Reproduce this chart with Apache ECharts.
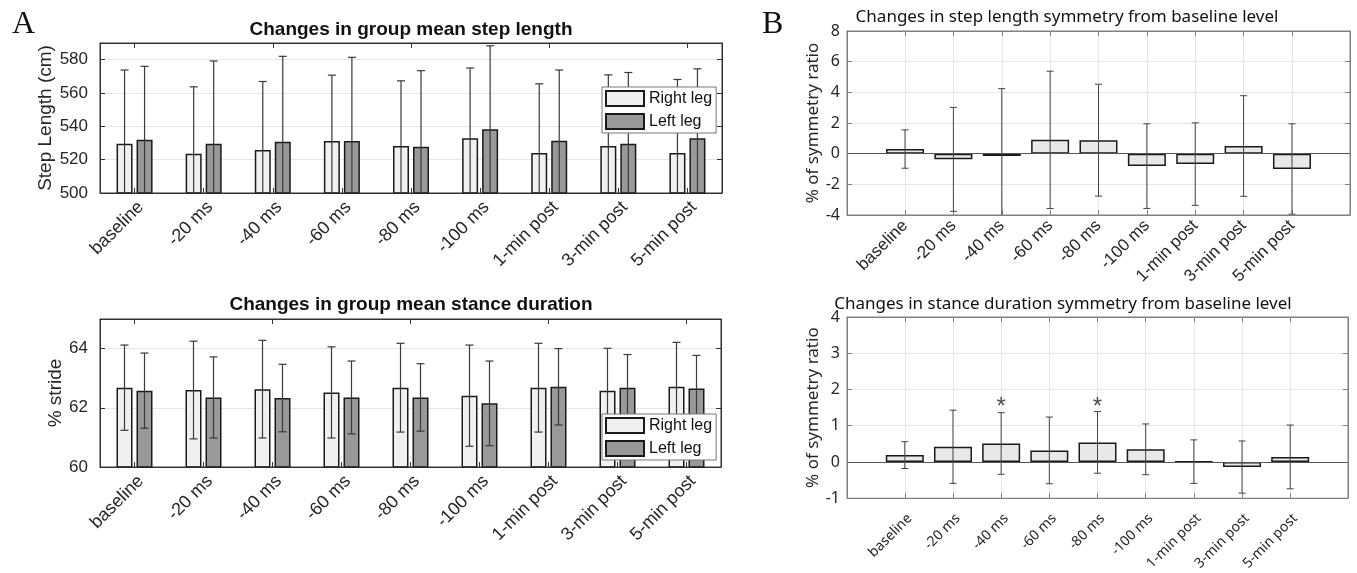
<!DOCTYPE html>
<html>
<head>
<meta charset="utf-8">
<script src="https://cdn.jsdelivr.net/npm/echarts@6/dist/echarts.min.js"></script>
<style>
html, body { margin: 0; padding: 0; background: #fff; }
#main { width: 1357px; height: 573px; }
</style>
</head>
<body>
<div id="main"></div>
<script>
const conditions = ['baseline', '-20 ms', '-40 ms', '-60 ms', '-80 ms', '-100 ms', '1-min post', '3-min post', '5-min post']

// A, top: group mean step length (cm), mean and SD
const stepRight = [529.6, 523.6, 525.8, 531.2, 528.2, 532.8, 524.0, 528.2, 524.0]
const stepRightSd = [44.2, 40.1, 41.1, 39.5, 39.1, 42.2, 41.5, 42.7, 44.1]
const stepLeft = [531.9, 529.6, 530.8, 531.2, 527.8, 538.3, 531.4, 529.6, 532.8]
const stepLeftSd = [44.1, 49.6, 51.2, 50.2, 45.6, 50.0, 42.4, 42.7, 41.7]

// A, bottom: group mean stance duration (% stride)
const stanceRight = [62.68, 62.60, 62.63, 62.52, 62.68, 62.41, 62.68, 62.58, 62.71]
const stanceRightSd = [1.44, 1.65, 1.65, 1.54, 1.50, 1.71, 1.50, 1.43, 1.50]
const stanceLeft = [62.58, 62.35, 62.33, 62.35, 62.35, 62.15, 62.71, 62.68, 62.65]
const stanceLeftSd = [1.27, 1.37, 1.14, 1.23, 1.14, 1.43, 1.29, 1.12, 1.12]

// B: symmetry ratio change from baseline (%)
const stepSym = [0.30, -0.37, -0.15, 0.90, 0.88, -0.81, -0.68, 0.50, -1.00]
const stepSymSd = [1.25, 3.39, 4.39, 4.48, 3.65, 2.76, 2.69, 3.28, 2.95]
const stanceSym = [0.19, 0.42, 0.51, 0.32, 0.54, 0.35, 0.01, -0.14, 0.14]
const stanceSymSd = [0.37, 1.01, 0.85, 0.92, 0.85, 0.70, 0.60, 0.72, 0.88]
const starConditions = ['-40 ms', '-80 ms']
const starLevel = 1.64

const ARIAL = 'Liberation Sans, Arial, sans-serif'
const SANS = 'Noto Sans, Open Sans, sans-serif'
const TXT = '#262626'

function errRows(mean, sd, xs) {
  return mean.map((m, i) => [xs ? i + 1 : i, m - sd[i], m + sd[i]])
}

// vertical error bar with caps, clipped to the plot box
function errorBar(offset, capHalf, color, width) {
  return function (params, api) {
    const cs = params.coordSys
    const hi = api.coord([api.value(0), api.value(2)])
    const lo = api.coord([api.value(0), api.value(1)])
    const x = hi[0] + offset
    const yTop = cs.y
    const yBot = cs.y + cs.height
    const y1 = Math.max(hi[1], yTop)
    const y2 = Math.min(lo[1], yBot)
    const st = () => ({ stroke: color, lineWidth: width })
    const children = [{ type: 'line', shape: { x1: x, y1: y1, x2: x, y2: y2 }, style: st() }]
    if (hi[1] >= yTop) children.push({ type: 'line', shape: { x1: x - capHalf, y1: hi[1], x2: x + capHalf, y2: hi[1] }, style: st() })
    if (lo[1] <= yBot) children.push({ type: 'line', shape: { x1: x - capHalf, y1: lo[1], x2: x + capHalf, y2: lo[1] }, style: st() })
    return { type: 'group', children: children }
  }
}

function catAxis(grid, pos, labels) {
  return {
    type: 'category', gridIndex: grid, position: pos, data: conditions,
    axisLine: { show: true, onZero: false, lineStyle: { color: '#333', width: 1 } },
    axisTick: { show: true, inside: true, alignWithLabel: true, length: 5, lineStyle: { color: '#333' } },
    axisLabel: labels ? { show: true, rotate: 45, margin: 5, verticalAlign: 'top', fontFamily: ARIAL, fontSize: 18, color: TXT } : { show: false },
    splitLine: { show: false }
  }
}

function symXAxis(grid, pos, labelStyle) {
  const ticks = conditions.map((c, i) => i + 1)
  return {
    type: 'value', gridIndex: grid, position: pos, min: -0.2, max: 10.2,
    axisLine: { show: true, onZero: false, lineStyle: { color: '#808080', width: 1 } },
    axisTick: { show: true, inside: true, length: 5, customValues: ticks, lineStyle: { color: '#808080' } },
    axisLabel: labelStyle ? Object.assign({ show: true, rotate: 45, customValues: ticks, formatter: v => conditions[Math.round(v) - 1] || '' }, labelStyle) : { show: false, customValues: ticks },
    splitLine: { show: pos === 'bottom', lineStyle: { color: '#e6e6e6' } }
  }
}

function valAxis(grid, pos, min, max, step, opts) {
  const main = pos === 'left'
  return Object.assign({
    type: 'value', gridIndex: grid, position: pos, min: min, max: max, interval: step,
    axisLine: { show: true, onZero: false, lineStyle: { color: opts.line, width: 1 } },
    axisTick: { show: true, inside: true, length: 5, lineStyle: { color: opts.line } },
    axisLabel: main ? { show: true, showMaxLabel: opts.showMax, margin: opts.margin, fontFamily: opts.font, fontSize: opts.size, color: TXT } : { show: false },
    splitLine: { show: main, showMinLine: false, showMaxLine: false, lineStyle: { color: '#e6e6e6' } }
  }, main ? { name: opts.name, nameLocation: 'middle', nameGap: opts.nameGap, nameTextStyle: { fontFamily: opts.font, fontSize: opts.nameSize, color: TXT } } : {})
}

const leftOpts = { line: '#333', font: ARIAL, size: 17, margin: 12, showMax: false, nameSize: 19 }
const rightOpts = { line: '#808080', font: SANS, size: 16, margin: 7, showMax: true, nameSize: 17, name: '% of symmetry ratio' }

const rightLegStyle = { color: '#f0f0f0', borderColor: '#1a1a1a', borderWidth: 1.5 }
const leftLegStyle = { color: '#999999', borderColor: '#1a1a1a', borderWidth: 1.5 }
const symStyle = { color: '#e8e8e8', borderColor: '#1a1a1a', borderWidth: 1.5 }

function legendAt(top) {
  return {
    orient: 'vertical', left: 602, top: top, padding: [3, 4, 3, 3], itemGap: 6,
    itemWidth: 38, itemHeight: 15, icon: 'rect',
    backgroundColor: '#fff', borderColor: '#777', borderWidth: 1,
    textStyle: { fontFamily: ARIAL, fontSize: 16, color: '#111' },
    data: ['Right leg', 'Left leg']
  }
}

function zeroLine() {
  return { silent: true, symbol: 'none', label: { show: false }, lineStyle: { color: '#555', type: 'solid', width: 1 }, data: [{ yAxis: 0 }] }
}

function box(left, top, width, height, color) {
  return { left: left, top: top, width: width, height: height, show: true, z: 10, backgroundColor: 'rgba(0,0,0,0)', borderColor: color, borderWidth: 1 }
}

const chart = echarts.init(document.getElementById('main'))
chart.setOption({
  animation: false,
  backgroundColor: '#fff',
  graphic: [
    { type: 'text', x: 12, y: 9, style: { text: 'A', font: '32px "Liberation Serif", serif', fill: '#111' } },
    { type: 'text', x: 762, y: 9, style: { text: 'B', font: '32px "Liberation Serif", serif', fill: '#111' } },
    { type: 'text', x: 411, y: 30, style: { text: 'Changes in group mean step length', font: 'bold 19px "Liberation Sans", Arial', fill: '#111', align: 'center', verticalAlign: 'middle' } },
    { type: 'text', x: 411, y: 305, style: { text: 'Changes in group mean stance duration', font: 'bold 19px "Liberation Sans", Arial', fill: '#111', align: 'center', verticalAlign: 'middle' } },
    { type: 'text', x: 1067, y: 17, style: { text: 'Changes in step length symmetry from baseline level', font: '17px "Noto Sans"', fill: '#111', align: 'center', verticalAlign: 'middle' } },
    { type: 'text', x: 1063, y: 304, style: { text: 'Changes in stance duration symmetry from baseline level', font: '17px "Noto Sans"', fill: '#111', align: 'center', verticalAlign: 'middle' } }
  ],
  grid: [
    box(100, 43, 622, 150, '#333'),
    box(100, 319, 621, 148, '#333'),
    box(847, 31, 503, 184, '#808080'),
    box(847, 317, 501, 182, '#808080')
  ],
  legend: [legendAt(87), legendAt(414)],
  xAxis: [
    catAxis(0, 'bottom', true), catAxis(0, 'top', false),
    catAxis(1, 'bottom', true), catAxis(1, 'top', false),
    symXAxis(2, 'bottom', { margin: 8, fontFamily: ARIAL, fontSize: 17, color: TXT }), symXAxis(2, 'top', null),
    symXAxis(3, 'bottom', { margin: 13, verticalAlign: 'top', fontFamily: SANS, fontSize: 14, color: TXT }), symXAxis(3, 'top', null)
  ],
  yAxis: [
    valAxis(0, 'left', 500, 590, 20, Object.assign({ name: 'Step Length (cm)', nameGap: 40 }, leftOpts)),
    valAxis(0, 'right', 500, 590, 20, leftOpts),
    valAxis(1, 'left', 60, 65, 2, Object.assign({ name: '% stride', nameGap: 33 }, leftOpts)),
    valAxis(1, 'right', 60, 65, 2, leftOpts),
    valAxis(2, 'left', -4, 8, 2, Object.assign({ nameGap: 24 }, rightOpts)),
    valAxis(2, 'right', -4, 8, 2, rightOpts),
    valAxis(3, 'left', -1, 4, 1, Object.assign({ nameGap: 25 }, rightOpts)),
    valAxis(3, 'right', -1, 4, 1, rightOpts)
  ],
  series: [
    { name: 'Right leg', type: 'bar', xAxisIndex: 0, yAxisIndex: 0, data: stepRight, barWidth: 16, barGap: '25%', itemStyle: rightLegStyle },
    { name: 'Left leg', type: 'bar', xAxisIndex: 0, yAxisIndex: 0, data: stepLeft, barWidth: 16, barGap: '25%', itemStyle: leftLegStyle },
    { type: 'custom', xAxisIndex: 0, yAxisIndex: 0, data: errRows(stepRight, stepRightSd), renderItem: errorBar(-10, 4, '#3a3a3a', 1.2), z: 3 },
    { type: 'custom', xAxisIndex: 0, yAxisIndex: 0, data: errRows(stepLeft, stepLeftSd), renderItem: errorBar(10, 4, '#3a3a3a', 1.2), z: 3 },

    { name: 'Right leg', type: 'bar', xAxisIndex: 2, yAxisIndex: 2, data: stanceRight, barWidth: 16, barGap: '25%', itemStyle: rightLegStyle },
    { name: 'Left leg', type: 'bar', xAxisIndex: 2, yAxisIndex: 2, data: stanceLeft, barWidth: 16, barGap: '25%', itemStyle: leftLegStyle },
    { type: 'custom', xAxisIndex: 2, yAxisIndex: 2, data: errRows(stanceRight, stanceRightSd), renderItem: errorBar(-10, 4, '#3a3a3a', 1.2), z: 3 },
    { type: 'custom', xAxisIndex: 2, yAxisIndex: 2, data: errRows(stanceLeft, stanceLeftSd), renderItem: errorBar(10, 4, '#3a3a3a', 1.2), z: 3 },

    { name: 'Step symmetry', type: 'bar', xAxisIndex: 4, yAxisIndex: 4, data: stepSym.map((v, i) => [i + 1, v]), barWidth: 38, itemStyle: symStyle, markLine: zeroLine() },
    { type: 'custom', xAxisIndex: 4, yAxisIndex: 4, data: errRows(stepSym, stepSymSd, true), renderItem: errorBar(0, 3.5, '#444', 1), z: 3 },

    { name: 'Stance symmetry', type: 'bar', xAxisIndex: 6, yAxisIndex: 6, data: stanceSym.map((v, i) => [i + 1, v]), barWidth: 38, itemStyle: symStyle, markLine: zeroLine() },
    { type: 'custom', xAxisIndex: 6, yAxisIndex: 6, data: errRows(stanceSym, stanceSymSd, true), renderItem: errorBar(0, 3.5, '#444', 1), z: 3 },
    {
      type: 'scatter', xAxisIndex: 6, yAxisIndex: 6, symbolSize: 1, itemStyle: { color: 'rgba(0,0,0,0)' },
      data: starConditions.map(c => [conditions.indexOf(c) + 1, starLevel]),
      label: { show: true, position: 'inside', formatter: '*', fontFamily: ARIAL, fontSize: 24, color: '#222', offset: [0, 5] }, z: 4
    }
  ]
})
</script>
</body>
</html>
